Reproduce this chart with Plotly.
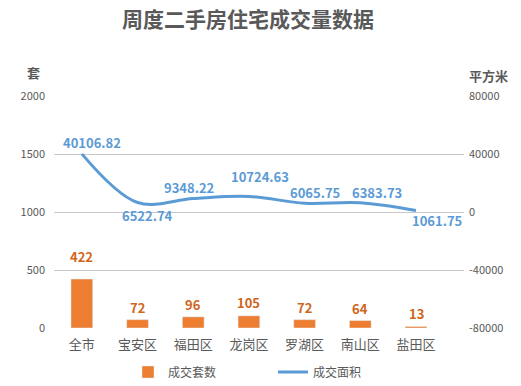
import plotly.graph_objects as go

categories = ["全市", "宝安区", "福田区", "龙岗区", "罗湖区", "南山区", "盐田区"]
units = [422, 72, 96, 105, 72, 64, 13]
area = [40106.82, 6522.74, 9348.22, 10724.63, 6065.75, 6383.73, 1061.75]
left_ticks = [0, 500, 1000, 1500, 2000]
right_ticks = [-80000, -40000, 0, 40000, 80000]

# label offsets (style)
bar_label_dy = [23, 12, 12, 13, 12, 12, 13]
line_label_dx = [10, 10, -4, 11, 10, 17, 21]
line_label_dy = [11, -13, 11, 20, 11, 10, -10]

FONT = "Noto Sans CJK SC"
GREY = "#595959"

W, H = 521, 386
L, R, T, B = 54, 57, 96, 58
pw, ph = W - L - R, H - T - B

def px(x):
    return (x - L) / pw

def py(y):
    return (H - y - B) / ph

fig = go.Figure()
fig.add_trace(go.Bar(x=categories, y=units, name="成交套数", marker_color="#ED7D31",
                     width=0.39, yaxis="y"))
fig.add_trace(go.Scatter(x=categories, y=area, name="成交面积", mode="lines",
                         line=dict(color="#5B9BD5", width=3, shape="spline", smoothing=1.0),
                         yaxis="y2"))

ann = []
for c, v, dy in zip(categories, units, bar_label_dy):
    ann.append(dict(x=c, y=v, xref="x", yref="y", text=f"<b>{v}</b>", showarrow=False,
                    yshift=dy, font=dict(family=FONT, size=13, color="#D0651C")))
for c, v, dx, dy in zip(categories, area, line_label_dx, line_label_dy):
    ann.append(dict(x=c, y=v, xref="x", yref="y2", text=f"<b>{v:.2f}</b>", showarrow=False,
                    xshift=dx, yshift=dy, font=dict(family=FONT, size=13, color="#5B9BD5")))
ann.append(dict(x=px(33), y=py(72), xref="paper", yref="paper", text="<b>套</b>", showarrow=False,
                xanchor="center", yanchor="middle",
                font=dict(family=FONT, size=13, color=GREY)))
ann.append(dict(x=px(488), y=py(75), xref="paper", yref="paper", text="<b>平方米</b>", showarrow=False,
                xanchor="center", yanchor="middle",
                font=dict(family=FONT, size=13, color=GREY)))

fig.update_layout(
    width=W, height=H,
    margin=dict(l=L, r=R, t=T, b=B, autoexpand=False),
    paper_bgcolor="white", plot_bgcolor="white",
    title=dict(text="<b>周度二手房住宅成交量数据</b>", x=248 / W, xanchor="center",
               y=1 - 20 / H, yanchor="middle",
               font=dict(family=FONT, size=21, color=GREY)),
    font=dict(family=FONT, color=GREY, size=11),
    xaxis=dict(showgrid=False, showline=False, ticks="", automargin=False,
               ticklabelstandoff=7,
               tickfont=dict(size=13, color=GREY)),
    yaxis=dict(range=[0, 2000], tickvals=left_ticks, showgrid=True, gridcolor="#C8C8C8",
               gridwidth=1, zeroline=False, showline=False, ticks="", automargin=False,
               ticklabelstandoff=8,
               tickfont=dict(size=11, color=GREY)),
    yaxis2=dict(range=[-80000, 80000], tickvals=right_ticks,
                ticktext=[str(t) for t in right_ticks], overlaying="y", side="right",
                showgrid=False, zeroline=False, showline=False, ticks="", automargin=False,
                ticklabelstandoff=4,
                tickfont=dict(size=11, color=GREY)),
    legend=dict(orientation="h", x=px(128), xanchor="left", y=py(372), yanchor="middle",
                font=dict(size=12, color=GREY), entrywidth=100),
    annotations=ann,
    showlegend=True,
)
fig.write_html("out.html")
